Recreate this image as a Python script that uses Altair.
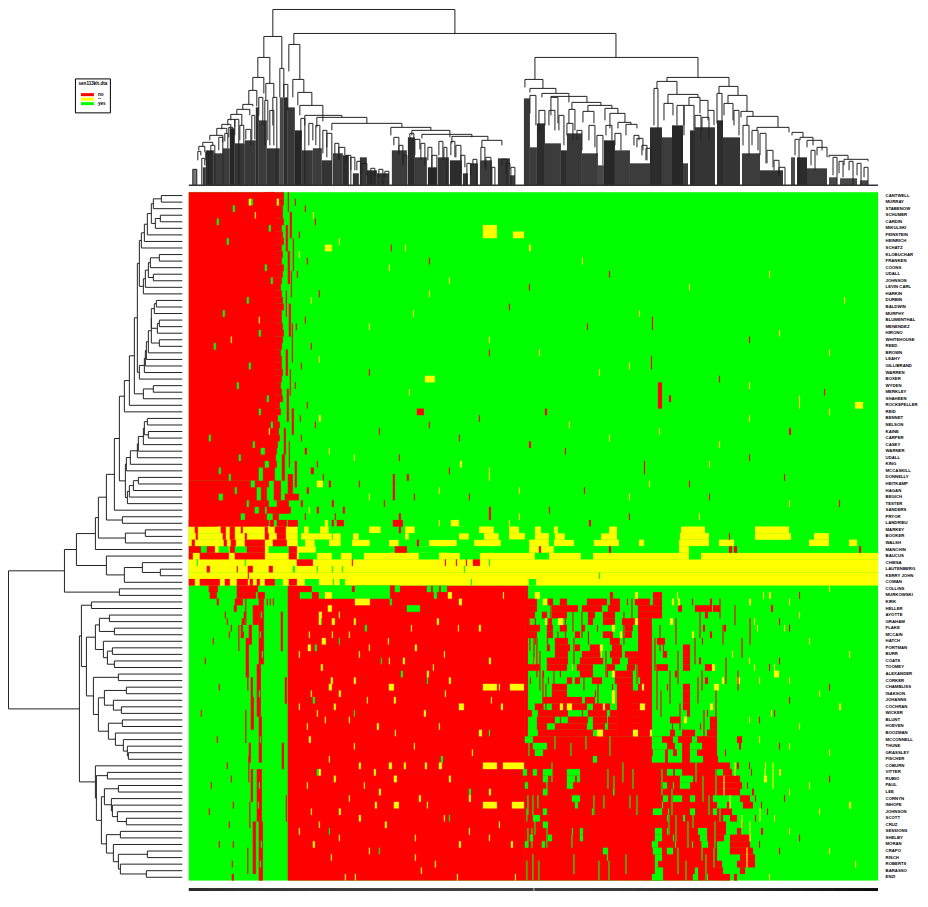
import altair as alt
import pandas as pd

NAMES = ["CANTWELL","MURRAY","STABENOW","SCHUMER","CARDIN","MIKULSKI","FEINSTEIN","HEINRICH","SCHATZ","KLOBUCHAR","FRANKEN","COONS","UDALL","JOHNSON","LEVIN  CARL","HARKIN","DURBIN","BALDWIN","MURPHY","BLUMENTHAL","MENENDEZ","HIRONO","WHITEHOUSE","REED","BROWN","LEAHY","GILLIBRAND","WARREN","BOXER","WYDEN","MERKLEY","SHAHEEN","ROCKEFELLER","REID","BENNET","NELSON","KAINE","CARPER","CASEY","WARNER","UDALL","KING","MCCASKILL","DONNELLY","HEITKAMP","HAGAN","BEGICH","TESTER","SANDERS","PRYOR","LANDRIEU","MARKEY","BOOKER","WALSH","MANCHIN","BAUCUS","CHIESA","LAUTENBERG","KERRY  JOHN","COWAN","COLLINS","MURKOWSKI","KIRK","HELLER","AYOTTE","GRAHAM","FLAKE","MCCAIN","HATCH","PORTMAN","BURR","COATS","TOOMEY","ALEXANDER","CORKER","CHAMBLISS","ISAKSON","JOHANNS","COCHRAN","WICKER","BLUNT","HOEVEN","BOOZMAN","MCCONNELL","THUNE","GRASSLEY","FISCHER","COBURN","VITTER","RUBIO","PAUL","LEE","CORNYN","INHOFE","JOHNSON","SCOTT","CRUZ","SESSIONS","SHELBY","MORAN","CRAPO","RISCH","ROBERTS","BARASSO","ENZI"]
N_COLS = 689
VOTES = ["no", "--", "yes"]
VOTE_COLORS = ["#ff0000", "#ffff00", "#00ff00"]

# solid blocks painted first: (row from, row to, col from, col to, vote)
SOLID = [(0,44,0,86,"no"),(44,51,0,76,"no"),(60,105,99,336,"no"),(83,105,336,528,"no"),(60,83,336,339,"no"),(65,83,449,463,"no"),(75,83,428,444,"no")]

# red block width of the Democratic rows 0-50
TOP_RED_END = [95,95,94,94,95,93,94,95,93,94,93,95,94,93,92,93,94,95,93,93,94,95,94,93,92,93,93,94,93,92,93,94,91,92,89,91,90,91,89,88,87,88,85,82,80,78,78,80,76,78,80]

# (row from, row to, col from, col to)
TOP_RED = [(0,3,99,100),(3,7,101,103),(5,9,97,99),(7,12,104,105),(9,14,99,101),(12,16,102,103),(15,19,97,98),(17,22,100,102),(20,26,103,104),(24,28,97,99),(27,31,101,102),(30,35,98,100),(33,37,103,105),(36,40,95,97),(38,42,100,101),(40,44,93,96),(41,45,106,108),(43,46,99,104),(44,47,85,92),(46,47,96,110),(47,49,88,100),(48,49,78,102),(49,50,84,90),(50,51,92,96),
(1,2,106,107),(6,7,110,111),(12,13,108,109),(20,21,107,108),(29,30,106,107),(34,35,111,112),(37,38,112,113),
(8,9,202,203),(14,15,340,341),(20,21,398,399),(29,33,469,473),(25,27,462,463),(19,21,463,464),(33,34,228,235),(33,34,356,358),(34,35,290,291),(38,39,340,342),(40,41,210,211),(41,43,455,456),(42,43,122,125),(43,45,204,206),(43,44,218,220),(44,45,140,142),(44,45,170,171),(45,47,204,206),(46,47,225,226),(47,48,143,145),(47,48,195,196),(48,49,154,156),(49,50,210,212),(49,50,146,147),(48,50,300,302),(45,46,395,396),(46,47,520,521),(50,51,143,145),(50,51,205,207),(50,51,148,155),(50,51,400,402),(43,44,595,596),(30,31,635,636),(22,23,560,561),(17,18,320,321),(12,13,420,421),(35,36,240,241),(39,40,376,377),(28,29,530,531),(36,37,600,602),(47,48,650,651),(31,32,480,482),
(2,3,116,117),(4,5,126,127),(10,11,118,119),(15,16,130,131),(19,20,116,117),(23,24,122,123),(26,27,112,113),(32,33,118,119),(35,36,126,127),(39,40,116,118),(41,42,128,129),(43,44,134,135),(45,46,118,120),(47,48,112,114),(48,49,128,130),(49,50,116,117),(27,28,180,181),(36,37,190,191),(42,43,260,261),(46,47,280,281),(48,49,360,361),(49,50,440,441),(44,45,500,501),(40,41,560,561),(24,25,300,301),(10,11,240,241),(37,38,270,271)]
TOP_GREEN = [(1,2,62,64),(2,3,44,46),(4,5,28,30),(5,6,80,82),(7,8,38,40),(11,12,76,78),(13,14,82,84),(16,17,58,60),(18,19,34,36),(21,22,70,72),(23,24,25,27),(26,27,60,62),(29,30,48,50),(31,32,78,80),(33,34,70,72),(35,36,82,84),(37,38,20,22),(38,39,64,66),(39,40,72,76),(40,41,50,52),(41,42,76,80),(42,43,30,32),(42,44,70,74),(43,44,40,42),(44,45,62,66),(45,46,46,48),(45,47,68,72),(46,47,30,34),(47,48,58,60),(48,49,66,70),(49,50,52,56),(50,51,22,24),(50,51,61,66)]
TOP_YELLOW = [(1,2,60,62),(1,2,88,90),(3,4,66,67),(5,7,294,308),(6,7,324,335),(8,9,136,143),(8,9,216,217),(8,9,340,342),(9,10,110,111),(10,11,393,394),(12,13,580,581),(15,16,240,241),(18,19,224,225),(19,20,70,71),(22,23,42,43),(24,25,350,351),(26,27,440,441),(28,29,236,246),(29,30,560,561),(31,32,610,611),(32,33,666,674),(32,33,610,611),(34,35,130,132),(36,37,80,81),(37,38,420,421),(40,41,165,166),(41,42,271,273),(42,43,300,301),(44,45,128,134),(44,45,460,461),(45,46,250,251),(45,46,330,331),(46,47,180,181),(47,48,600,601),(48,49,120,121),(49,50,330,331),(49,50,510,511),(50,51,136,139),(50,51,250,251),(50,51,262,270),(50,51,320,321),(38,39,530,531),(33,34,640,641),(16,17,655,656),(24,25,640,641),
(3,4,124,125),(7,8,150,151),(11,12,200,201),(13,14,260,261),(16,17,122,123),(20,21,180,181),(22,23,300,301),(25,26,130,131),(27,28,410,411),(30,31,220,221),(35,36,380,381),(39,40,140,141),(43,44,300,301),(46,47,440,441),(41,42,520,521),(36,37,470,471),(14,15,500,501),(18,19,450,451),(21,22,590,591),(34,35,560,561)]

# rows 51-59: (row, col from, col to)
MID_RED = [(51,6,9),(51,32,37),(51,41,46),(51,52,54),(51,76,79),(51,86,97),(52,7,9),(52,34,37),(52,41,46),(52,56,58),(52,76,80),(52,88,97),(53,3,6),(53,35,38),(53,42,47),(53,56,76),(53,84,98),
(54,0,12),(54,18,26),(54,41,46),(54,58,76),(54,100,108),(55,0,4),(55,11,40),(55,46,76),(55,100,108),
(56,108,124),(56,163,164),(56,256,257),(56,267,268),(56,277,278),(56,284,291),
(57,18,21),(57,48,49),(57,59,64),(57,80,84),(58,59,60),
(59,0,6),(59,11,31),(59,36,41),(59,48,59),(59,61,64),(59,68,71),(59,76,86),(59,100,108),
(50,0,29),(50,31,76),(50,81,85),(50,88,98),(50,99,109),(50,204,214),
(54,206,218),(54,540,543),(53,228,230),(54,350,352),(54,420,422),(54,545,548),(54,670,672),(52,540,541),(51,210,212)]
MID_YELLOW = [(51,0,109),(52,0,109),(53,0,109),(51,115,120),(52,112,130),(53,116,126),(51,131,140),(52,130,143),(53,140,152),(52,144,152),(53,163,181),(51,180,192),(52,164,170),(53,200,210),(51,216,226),(52,216,220),(53,240,268),(51,268,275),(52,270,280),(51,290,305),(52,295,310),(53,285,312),(51,320,330),(52,320,336),
(51,346,352),(51,365,369),(51,420,428),(51,492,516),(51,566,600),(52,346,360),(52,366,376),(52,412,428),(52,491,520),(52,566,602),(52,625,640),(53,340,360),(53,365,385),(53,405,430),(53,450,455),(53,490,520),(53,530,545),(53,620,640),(53,660,668),
(54,26,41),(54,76,80),(54,108,128),(54,340,365),(54,222,240),(54,490,500),
(55,0,689),(56,0,689),(57,0,689),(58,0,689),(59,0,689)]
MID_GREEN = [(54,12,18),(54,30,40),(54,80,100),(54,127,200),(54,218,250),(54,260,300),(54,304,340),
(55,110,128),(55,143,152),(55,163,175),(55,230,250),(55,271,291),(55,346,360),(55,392,404),(55,500,512),
(56,8,9),(56,56,57),(57,104,106),(57,128,129),(57,143,144),(57,153,154),(57,275,276),(59,86,94),(59,116,130),(59,144,145),(59,151,156),(59,282,283),(59,340,347),(58,410,411),(56,300,301),
(51,109,115),(52,109,112),(53,109,116),(51,120,131),(52,152,164),(53,126,140),(53,152,163),(51,140,180),(52,170,216),(53,181,200),(53,210,240),(51,192,216),(51,226,290),(52,220,270),(52,280,295),(51,305,320),(52,310,320),(53,268,285),(53,312,340),
(54,365,490),(54,500,689),(51,369,420),(52,376,412)]

# rows 60-104: left part, green field with red streaks running over several rows
LEFT_RED = [(60,20,29),(60,48,69),(61,21,28),(61,48,67),(61,69,76),(62,28,30),(62,46,54),(62,78,79),(62,81,82),(62,84,85),(63,45,48),(64,36,37),(64,55,57),(65,38,39),(65,53,56),(66,42,43),(66,52,54),(67,40,41),(67,52,55),
(68,24,25),(71,16,17),(75,30,31),(79,12,13),(83,28,29),(90,22,23),(94,20,21),(99,30,31),(87,38,39),(89,42,43),(93,44,45),(96,40,41),(99,44,45),(102,43,44),(104,43,45)]
LEFT_STREAK = [(62,72,70,75),(63,66,64,70),(66,69,60,63),(68,74,57,60),(72,80,68,72),(74,77,62,64),(77,82,62,65),(80,87,70,73),(84,87,60,62),(88,96,68,73),(88,93,62,64),(96,105,70,74),(96,104,64,67),(64,70,92,94),(74,78,96,98),(84,88,93,95),(92,96,97,98)]
LEFT_HOLES = [(64,72,73),(67,71,72),(70,73,74),(76,70,71),(83,71,72),(90,70,71),(93,69,70),(99,72,73),(102,71,72)]

# rows 60-82, columns 336-580, red runs on green
VOTE_ROWS_RED = {
60:[(201,206)],
61:[(421,424),(464,473)],
62:[(339,348),(359,364),(371,378),(398,418),(421,431),(438,439),(446,461),(464,473),(503,504),(521,523)],
63:[(339,348),(363,389),(393,413),(419,431),(449,473),(489,493),(506,523),(524,531)],
64:[(339,346),(353,358),(363,378),(399,406),(414,426),(449,473),(516,519)],
65:[(339,340),(346,347),(359,363),(376,377),(399,404),(414,426),(433,449)],
66:[(339,351),(358,364),(371,378),(393,396),(408,409),(436,444),(514,516),(535,537)],
67:[(339,348),(358,364),(376,377),(386,391),(399,400),(414,424),(436,443),(521,523)],
68:[(346,347),(358,359),(366,379),(399,400),(421,431),(468,476),(513,514)],
69:[(358,361),(366,381),(386,391),(401,411),(423,433),(474,475),(494,501)],
70:[(366,379),(393,411),(421,433),(436,449),(474,478),(494,501)],
71:[(358,379),(391,414),(423,431),(439,449),(494,501),(510,512)],
72:[(339,351),(358,378),(388,404),(418,426),(438,446),(468,479),(494,501),(516,523)],
73:[(354,355),(371,372),(391,404),(418,419),(424,444),(486,488)],
74:[(341,342),(359,360),(378,383),(386,391),(403,413),(426,444),(516,519)],
75:[(363,378),(423,424),(478,479),(494,501)],
76:[(363,378),(406,407),(444,449),(494,501)],
77:[(354,393),(396,406),(444,449),(494,501)],
78:[(346,354),(363,398),(404,421),(444,449),(494,501)],
79:[(339,343),(349,379),(393,394),(399,418),(421,428),(444,449),(498,501),(518,519)],
80:[(348,366),(371,372),(379,399),(404,418),(419,428),(444,449),(481,491),(521,528)],
81:[(348,358),(366,398),(404,416),(419,428),(444,449),(483,484),(511,512),(521,528)],
82:[(349,404),(414,428),(444,449),(481,486),(493,506),(518,528)]}
VOTE_ROWS_YELLOW = [(61,346,351),(61,446,449),(61,488,489),(62,354,358),(62,483,485),(62,489,491),(65,341,342),(65,356,358),(65,369,374),(65,446,449),(65,481,484),(66,423,426),(67,431,433),(67,503,505),(69,411,414),(70,412,413),(71,345,346),(72,383,384),(72,523,526),(73,423,426),(74,548,551),(75,453,455),(75,525,530),(76,423,426),(77,423,426),(78,371,374),(78,378,383),(78,414,416),(78,451,456),(78,521,524),(80,495,498),(82,408,414),(82,444,449),(82,461,463),
(74,533,535),(70,543,544),(66,568,569),(62,560,562),(61,574,575),(61,580,582),(65,565,566),(71,560,561),(74,570,571),(72,565,566),(79,582,583),(80,560,561),(83,570,571)]
VOTE_ROWS_GREEN = [(66,444,446),(67,443,449),(68,431,449),(69,433,449),(73,444,449),(74,444,451),(75,446,449),(65,463,464)]

# rows 83-104, columns 336-528: green holes in red
LOWER_GREEN = [(83,336,344),(83,463,473),(83,484,489),(83,503,508),(84,344,358),(84,463,478),(84,486,493),(84,501,513),(85,346,354),(85,464,476),(85,479,484),(85,488,493),(85,501,508),(86,404,408),(86,463,476),(86,479,493),(86,501,514),
(88,334,338),(88,344,348),(88,354,363),(88,378,391),(88,478,484),(88,486,493),(89,354,359),(89,378,386),(89,388,391),(89,491,504),(90,336,339),(90,378,384),(90,474,478),(90,484,485),(90,491,501),(91,354,358),(91,424,425),(92,383,391),(92,474,479),(92,484,493),(92,501,506),(92,524,551),(93,386,389),(93,473,474),(93,531,538),(94,354,358),(94,403,404),(94,464,473),(94,479,480),(94,501,506),(94,524,534),(95,344,351),(95,478,479),(95,494,496),(96,354,359),(97,383,384),(97,391,394),(97,466,473),(97,478,479),(97,509,518),(98,341,344),(98,359,363),(98,391,394),(98,466,473),(98,484,485),(98,511,518),(99,336,339),(99,353,356),(99,463,469),(99,486,487),(99,503,504),(99,513,519),(100,414,419),(100,464,473),(100,478,484),(101,418,419),(101,466,473),(102,466,469),(103,466,474),(103,506,509),(104,463,474),(104,504,509),(104,518,519)]
LOWER_RIGHT_RED = [(83,548,553),(87,528,541),(88,534,543),(89,528,551),(90,528,553),(91,528,551),(92,551,561),(93,538,541),(93,554,564),(94,528,543),(95,528,534),(95,541,548),(96,528,537),(97,528,537),(97,548,552),(98,528,535),(98,541,561),(99,541,561),(100,541,564),(101,551,566),(102,528,533),(102,548,566),(103,528,534),(103,551,556),(104,528,541),(104,545,548)]
LOWER_RED_LINES = [(83,514,516),(84,516,518),(85,518,520),(86,528,529),(90,558,559),(92,566,567),(96,553,554),(99,570,571),(95,566,567),(88,562,563),(84,550,552),(85,536,537),(87,548,550),(91,563,565),(87,560,561),(93,572,573),(97,572,574),(94,578,579),(100,590,591),(80,570,571),(72,580,581),(65,590,591),(77,600,601)]

# rows 60-104, columns 100-336: holes and flecks in the red block
RED_BLOCK_GREEN = [(60,123,163),(60,166,201),(60,206,211),(60,238,242),(60,244,250),(60,252,258),(61,111,123),(61,130,136),(61,143,201),(61,245,248),(62,201,203),(63,218,231),(65,132,133),(66,176,178),(68,150,151),(69,126,128),(71,192,193),(73,212,214),(74,238,239),(77,124,126),(79,165,166),(82,300,301),(86,252,254),(88,128,130),(91,280,282),(95,260,261),(97,140,141),(100,190,191)]
RED_BLOCK_YELLOW = [(61,136,143),(61,259,263),(61,314,315),(62,166,181),(62,270,273),(63,139,143),(64,130,133),(64,150,151),(65,130,132),(65,143,146),(65,165,167),(65,248,250),(66,222,223),(66,269,270),(66,290,292),(67,120,121),(67,143,144),(67,160,161),(68,133,137),(68,199,200),(69,119,122),(69,180,181),(69,226,228),(70,110,111),(70,170,171),(70,255,256),(71,200,201),(71,214,216),(71,300,302),(72,132,134),(72,244,245),(73,238,240),(74,142,144),(74,165,167),(74,260,262),(75,140,143),(75,294,308),(75,321,335),(75,200,205),(75,310,311),(76,122,123),(76,150,152),(76,256,257),(77,178,179),(77,205,207),(77,302,303),(78,145,147),(78,110,111),(78,270,275),(78,312,314),(79,128,129),(79,235,237),(80,136,137),(80,160,161),(81,118,119),(81,188,190),(81,250,251),(82,206,207),(82,290,293),
(83,120,122),(84,225,226),(84,165,166),(85,283,284),(86,140,141),(87,170,172),(87,200,203),(87,215,217),(87,294,308),(87,314,335),(87,236,238),(87,250,253),(88,130,132),(88,185,187),(89,145,147),(89,205,208),(89,260,262),(90,118,119),(90,175,176),(91,190,192),(91,300,302),(92,160,161),(92,230,232),(92,280,282),(93,294,308),(93,323,335),(93,205,210),(93,238,239),(93,186,188),(94,150,152),(94,122,123),(95,255,256),(95,170,172),(96,130,131),(96,196,198),(96,310,311),(97,280,281),(97,110,111),(98,226,227),(98,150,151),(98,300,301),(99,124,126),(99,270,272),(99,322,324),(100,180,181),(101,142,143),(101,226,227),(102,246,247),(103,232,233),(104,156,157),(104,166,167),(104,268,269),(104,326,327)]

# rows 60-104 far-right field flecks
RIGHT_YELLOW = [(60,640,641),(62,600,601),(64,610,611),(66,595,596),(68,620,621),(70,660,661),(72,585,586),(73,585,590),(74,600,601),(76,630,631),(78,650,652),(81,610,611),(84,600,601),(87,576,577),(88,590,592),(89,575,578),(90,620,621),(93,660,662),(95,585,586),(97,600,601),(100,640,641),(102,666,667),(104,580,581),(85,640,641),(91,600,601),(94,630,631)]
RIGHT_RED = [(61,610,611),(63,582,584),(66,600,601),(71,590,591),(75,640,641),(79,585,586),(84,590,591),(92,595,596),(89,640,641),(98,610,611)]

# thin votes that straddle a pixel: (row from, row to, col, vote)
THIN = [(62,75,337,"no"),(64,70,340,"no"),(66,72,344,"no"),(68,74,347,"no"),(70,76,350,"no"),(73,79,353,"no"),(75,81,356,"no"),(62,66,361,"no"),(67,71,368,"no"),(73,77,364,"no"),(63,67,383,"no"),(68,72,384,"no"),(73,76,394,"no"),(64,68,392,"no"),(75,79,408,"no"),(70,74,416,"no"),(64,69,434,"no"),(71,75,447,"no"),(62,66,442,"no"),(68,73,465,"no"),(72,79,467,"no"),(76,80,471,"no"),(66,70,470,"no"),(73,78,480,"no"),(65,69,486,"no"),(70,75,488,"no"),(78,82,490,"no"),(68,72,505,"no"),(74,78,508,"no"),(64,68,510,"no"),(73,76,512,"no"),(79,83,514,"no"),(62,65,530,"no"),(66,69,533,"no"),(71,75,536,"no"),(76,80,526,"no"),(63,66,545,"no"),(68,71,552,"no"),(73,76,548,"no"),(65,69,560,"no"),
(62,66,56,"no"),(66,70,49,"no"),(72,76,58,"no"),(79,84,56,"no"),(86,90,59,"no"),(93,97,60,"no"),(100,104,58,"no"),
(83,86,339,"yes"),(83,85,365,"yes"),(84,86,381,"yes"),(83,85,396,"yes"),(83,86,420,"yes"),(88,92,357,"yes"),(87,90,362,"yes"),(88,91,418,"yes"),(89,92,424,"yes"),(87,90,433,"yes"),(88,91,443,"yes"),(92,95,338,"yes"),(92,95,343,"yes"),(92,94,348,"yes"),(92,95,404,"yes"),(92,94,414,"yes"),(92,94,440,"yes"),(92,95,447,"yes"),(94,96,337,"yes"),(95,98,345,"yes"),(97,100,338,"yes"),(97,100,342,"yes"),(97,100,357,"yes"),(98,100,382,"yes"),(102,105,337,"yes"),(101,105,343,"yes"),(102,105,349,"yes"),(101,104,384,"yes"),(102,105,409,"yes"),(102,105,419,"yes"),(101,104,436,"yes"),(88,92,472,"yes"),(91,95,482,"yes"),(87,90,506,"yes"),(89,93,513,"yes"),(92,95,519,"yes"),(95,98,479,"yes"),(95,99,486,"yes"),(94,97,503,"yes"),(96,100,498,"yes"),(98,102,512,"yes"),(100,103,524,"yes"),(100,104,488,"yes"),(102,105,496,"yes"),(101,105,516,"yes"),(88,92,526,"yes"),(92,96,530,"yes"),(96,100,525,"yes"),
(87,89,545,"--"),(92,94,540,"--"),(95,97,552,"--"),(88,90,575,"--"),(96,99,560,"--"),(100,103,557,"--"),(89,92,534,"--"),(94,96,570,"--"),(87,91,583,"--")]

legend_labels = ["no", "--", "yes"]

L = 0
LEFT_TREE = [174,
 [118,
  [106,
   [87,
    [84,
     [76,
      [68,
       [63,
        [58,[53,[48,[45,[43,[41,[38,[35,[31,[29,[21,L,L],L],[27,[22,L,L],L]],L],L],L],[39,[37,[34,[32,[23,L,L],L],[29,L,L]],L],L]],
                     [43,[38,[37,[36,[34,[31,[31,[28,[26,L,L],L],[25,[23,L,L],L]],[23,L,L]],L],L],L],L],L]],
                 [39,[29,L,L],L]],L],L],
        [57,[56,[52,[45,[44,[39,[38,[35,L,L],[34,L,L]],L],L],L],L],L],[55,[53,[49,[44,L,L],L],L],L]]],
       L],
      [60,L,L]],
     [57,[37,L,L],L]],
    L],
   [76,L,[58,[40,L,[22,L,L]],L]]],
  [63,L,L]],
 [103,
  [101,[91,L,L],
   [96,[87,[83,[73,L,L],[68,L,L]],[79,L,[75,[70,L,L],[68,L,L]]]],
       [89,[64,L,L],[84,[78,[56,L,L],[69,L,[61,L,L]]],[74,[60,L,L],[67,L,[59,L,[55,L,[54,L,L]]]]]]]]],
  [87,L,[86,[75,L,L],[81,[78,[64,L,L],[71,L,[70,L,[65,L,[56,L,L]]]]],[76,[62,L,L],[69,L,[64,[35,L,L],[62,L,[36,L,L]]]]]]]]]]

# merges of the column tree: (left col, right col, height, left child height, right child height)
TOP_NODES = [(84,266,176,149,152),(105,427,152,141,128),(346,509,128,106,108),(75,93,149,128,117),(69,81,128,108,102),(64,75,108,95,92),(77,85,102,85,88),(60,68,95,81,79),(54,64,81,76,79),(48,61,76,71,70),(42,53,71,65,60),(39,46,66,60,58),(33,42,61,56,51),(28,38,57,50,52),(21,34,50,45,43),(14,24,43,39,40),(10,16,39,35,33),(9,12,34,25,30),(4,8,16,0,0),(91,95,117,88,88),(95,99,101,88,75),(100,111,141,114,106),(104,115,106,88,93),(109,123,93,80,80),(111,134,80,70,64),(116,153,70,60,68),(128,178,68,58,62),(143,213,62,55,58),(202,242,58,50,55),(223,261,55,50,48),(233,283,51,47,48),(263,299,49,42,45),(293,313,45,38,40),
(30,34,48,35,0),(22,26,40,30,0),(17,20,33,25,0),(13,16,27,0,20),(36,39,52,44,37),(40,44,58,48,40),(46,50,66,50,0),(51,55,60,45,42),(57,62,56,46,40),(63,66,70,45,46),(70,74,88,70,60),(76,79,85,40,45),(81,85,75,40,40),(84,88,88,60,0),(112,116,67,45,0),(120,124,62,40,45),(127,131,60,40,35),(134,138,55,32,28),(138,143,52,38,0),(146,150,42,30,25),(150,156,38,26,30),(157,162,30,22,15),(162,166,28,0,15),(168,172,24,15,0),(173,178,22,12,10),(182,186,17,0,8),(190,194,16,8,0),(196,200,14,8,0),(205,210,48,40,30),(210,214,40,32,22),(214,218,30,20,0),(221,225,52,46,44),(226,231,46,30,36),(232,236,42,25,20),(239,243,38,25,0),(243,248,30,18,0),(250,254,44,30,26),(255,258,38,25,0),(262,266,44,30,28),(267,272,40,28,25),(272,276,30,12,18),(278,282,22,0,10),(284,288,26,20,0),(292,296,38,25,18),(297,302,28,15,0),(303,306,18,0,0),(313,318,26,20,0),(317,321,22,12,16),(322,326,18,0,0),
(336,354,106,98,97),(341,367,97,93,92),(353,380,92,88,83),(362,398,89,88,83),(383,412,83,76,80),(399,423,80,74,77),(416,429,77,65,72),(421,436,72,57,63),(429,442,63,57,61),(437,448,61,50,57),(445,450,50,40,45),(448,454,47,38,35),(453,458,40,30,25),(457,462,37,25,20),(394,405,74,63,62),(380,386,76,62,55),(362,369,88,70,62),(341,347,90,72,60),(350,356,75,55,60),(360,366,75,60,55),(370,375,70,55,40),(378,384,62,50,45),(388,393,55,45,35),(400,406,60,45,38),(408,414,50,30,20),(417,423,60,50,45),(426,432,52,40,35),
(478,540,108,104,99),(468,488,104,97,91),(465,469,97,60,55),(479,509,91,82,88),(500,511,88,80,85),(511,519,85,72,75),(519,525,75,65,60),(475,484,82,65,70),(488,495,80,60,50),(495,505,80,60,55),(506,512,70,55,45),(513,520,68,55,45),(530,549,99,92,90),(528,533,92,62,60),(539,558,90,82,74),(535,544,82,70,65),(545,550,75,60,50),(552,564,74,68,69),(558,589,69,60,58),(568,600,58,55,53),(554,560,60,40,30),(563,569,55,40,35),(571,577,52,30,22),(578,584,35,22,18),(585,590,25,15,10),(590,596,18,10,0),(603,614,53,50,48),(611,624,48,45,40),(618,633,45,38,35),(628,638,38,30,28),(606,610,46,30,0),(622,626,35,20,15),(640,659,30,28,26),(655,679,26,20,24),(644,648,28,10,0),(650,654,24,12,8),(660,664,24,15,0),(668,672,22,10,0),(675,679,18,8,0)]

# dark masses of tightly joined columns: (col from, col to, height, shade)
DARK = [(4,8,16,"#777"),(14,17,18,"#383838"),(17,25,35,"#2c2c2c"),(25,34,32,"#3c3c3c"),(34,41,37,"#3c3c3c"),(41,46,57,"#262626"),(46,56,42,"#343434"),(56,67,45,"#383838"),(67,70,78,"#2c2c2c"),(70,78,65,"#3c3c3c"),(78,91,37,"#343434"),(91,95,88,"#484848"),(95,99,88,"#2c2c2c"),(99,106,78,"#383838"),(106,113,55,"#262626"),(113,124,35,"#383838"),(124,133,37,"#3c3c3c"),(133,143,25,"#343434"),(144,154,32,"#3c3c3c"),(154,160,30,"#2c2c2c"),(164,170,12,"#343434"),(171,178,28,"#383838"),(178,188,15,"#2c2c2c"),(188,200,12,"#343434"),(203,218,35,"#3c3c3c"),(219,226,48,"#2c2c2c"),(226,238,28,"#3c3c3c"),(239,248,18,"#262626"),(249,260,28,"#343434"),(261,273,25,"#2c2c2c"),(274,279,12,"#343434"),(281,289,22,"#343434"),(291,303,25,"#3c3c3c"),(309,321,27,"#383838"),(321,326,10,"#3c3c3c"),
(335,341,87,"#383838"),(341,348,38,"#3c3c3c"),(348,356,62,"#2c2c2c"),(356,372,42,"#3c3c3c"),(372,378,35,"#2c2c2c"),(378,393,52,"#383838"),(393,409,32,"#3c3c3c"),(409,415,20,"#484848"),(415,426,45,"#262626"),(426,441,35,"#3c3c3c"),(441,461,22,"#3c3c3c"),(461,473,58,"#2c2c2c"),(473,483,48,"#3c3c3c"),(483,494,60,"#262626"),(494,499,22,"#3c3c3c"),(501,506,55,"#2c2c2c"),(506,526,58,"#343434"),(528,534,65,"#2c2c2c"),(534,551,48,"#343434"),(553,571,32,"#3c3c3c"),(571,594,15,"#343434"),(602,606,28,"#484848"),(608,618,28,"#2c2c2c"),(618,638,17,"#3c3c3c"),(640,648,8,"#484848"),(651,668,7,"#484848"),(671,679,5,"#484848")]


def paint():
    cells = list(SOLID)
    cells += [(r, r + 1, 76, end, "no") for r, end in enumerate(TOP_RED_END)]
    cells += [(r0, r1, c0, c1, "no") for r0, r1, c0, c1 in TOP_RED]
    cells += [(r0, r1, c0, c1, "yes") for r0, r1, c0, c1 in TOP_GREEN]
    cells += [(r0, r1, c0, c1, "--") for r0, r1, c0, c1 in TOP_YELLOW]
    cells += [(r, r + 1, c0, c1, "--") for r, c0, c1 in MID_YELLOW]
    cells += [(r, r + 1, c0, c1, "yes") for r, c0, c1 in MID_GREEN]
    cells += [(r, r + 1, c0, c1, "no") for r, c0, c1 in MID_RED]
    cells += [(r, r + 1, c0, c1, "no") for r, c0, c1 in LEFT_RED]
    cells += [(r0, r1, c0, c1, "no") for r0, r1, c0, c1 in LEFT_STREAK]
    cells += [(r, r + 1, c0, c1, "yes") for r, c0, c1 in LEFT_HOLES]
    for r, runs in VOTE_ROWS_RED.items():
        cells += [(r, r + 1, c0, c1, "no") for c0, c1 in runs]
    cells += [(r, r + 1, c0, c1, "yes") for r, c0, c1 in VOTE_ROWS_GREEN]
    cells += [(r, r + 1, c0, c1, "--") for r, c0, c1 in VOTE_ROWS_YELLOW]
    cells += [(r, r + 1, c0, c1, "yes") for r, c0, c1 in LOWER_GREEN]
    cells += [(r, r + 1, c0, c1, "no") for r, c0, c1 in LOWER_RIGHT_RED + LOWER_RED_LINES + RIGHT_RED]
    cells += [(r, r + 1, c0, c1, "yes") for r, c0, c1 in RED_BLOCK_GREEN]
    cells += [(r, r + 1, c0, c1, "--") for r, c0, c1 in RED_BLOCK_YELLOW + RIGHT_YELLOW]
    cells += [(r0, r1, c + 0.5, c + 1.5, v) for r0, r1, c, v in THIN]
    rows = [(0, 105, 0, N_COLS, "yes")] + cells
    return pd.DataFrame(
        [{"i": i, "r0": r[0], "r1": r[1], "c0": r[2], "c1": r[3], "vote": r[4]} for i, r in enumerate(rows)]
    )


cells_df = paint()
col_scale = alt.Scale(domain=[0, N_COLS], nice=False, zero=False)
row_scale = alt.Scale(domain=[105, 0], nice=False, zero=False)
vote_scale = alt.Scale(domain=VOTES, range=VOTE_COLORS)

heat = alt.Chart(cells_df).mark_rect(strokeWidth=0.15).encode(
    x=alt.X("c0:Q", scale=col_scale, axis=alt.Axis(
        values=list(range(N_COLS)), labels=False, domain=False, grid=False, title=None,
        tickColor="#000000", tickSize=3, tickWidth=1, offset=7)),
    x2="c1:Q",
    y=alt.Y("r0:Q", scale=row_scale, axis=None),
    y2="r1:Q",
    color=alt.Color("vote:N", scale=vote_scale, legend=None),
    stroke=alt.Stroke("vote:N", scale=vote_scale, legend=None),
    order="i:Q",
).properties(width=690, height=689)

labels_df = pd.DataFrame({"name": NAMES, "row": [i + 0.5 for i in range(len(NAMES))]})
labels = alt.Chart(labels_df).mark_text(
    align="left", baseline="middle", font="Liberation Sans", fontSize=4.3, fontWeight="bold", color="#000000", dx=7.5
).encode(
    x=alt.value(0),
    y=alt.Y("row:Q", scale=row_scale, axis=None),
    text="name:N",
).properties(width=42, height=689)


# left tree
segs = []
counter = [0]


def walk(node):
    if node == 0:
        pos = counter[0] + 0.5
        counter[0] += 1
        return pos, 0
    h, a, b = node
    pa, ha = walk(a)
    pb, hb = walk(b)
    segs.append({"h0": h, "h1": ha, "p0": pa, "p1": pa})
    segs.append({"h0": h, "h1": hb, "p0": pb, "p1": pb})
    segs.append({"h0": h, "h1": h, "p0": pa, "p1": pb})
    return (pa + pb) / 2, h


walk(LEFT_TREE)
left_df = pd.DataFrame(segs)
left = alt.Chart(left_df).mark_rule(color="#222222", strokeWidth=1).encode(
    x=alt.X("h0:Q", scale=alt.Scale(domain=[174.5, -6.5], nice=False, zero=False), axis=None),
    x2="h1:Q",
    y=alt.Y("p0:Q", scale=row_scale, axis=None),
    y2="p1:Q",
).properties(width=181, height=689)

# top tree
top_segs = []
for c0, c1, h, h0, h1 in TOP_NODES:
    top_segs.append({"c0": c0, "c1": c1, "h0": h, "h1": h})
    top_segs.append({"c0": c0, "c1": c0, "h0": h, "h1": h0})
    top_segs.append({"c0": c1, "c1": c1, "h0": h, "h1": h1})
top_df = pd.DataFrame(top_segs)
h_scale = alt.Scale(domain=[0, 177], nice=False, zero=False)
dark_df = pd.DataFrame(DARK, columns=["c0", "c1", "h", "shade"])
dark_df["b"] = 0
dark = alt.Chart(dark_df).mark_rect(strokeWidth=0).encode(
    x=alt.X("c0:Q", scale=col_scale, axis=None), x2="c1:Q",
    y=alt.Y("h:Q", scale=h_scale, axis=None), y2="b:Q",
    color=alt.Color("shade:N", scale=None),
)
top_lines = alt.Chart(top_df).mark_rule(color="#222222", strokeWidth=1).encode(
    x=alt.X("c0:Q", scale=col_scale, axis=None), x2="c1:Q",
    y=alt.Y("h0:Q", scale=h_scale, axis=None), y2="h1:Q",
)
base_df = pd.DataFrame({"c0": [0], "c1": [N_COLS], "h": [0]})
top_base = alt.Chart(base_df).mark_rule(color="#333333", strokeWidth=1.5).encode(
    x=alt.X("c0:Q", scale=col_scale, axis=None), x2="c1:Q",
    y=alt.Y("h:Q", scale=h_scale, axis=None),
)
top = alt.layer(dark, top_lines, top_base).properties(width=690, height=177)

# legend panel
legend_df = pd.DataFrame({"label": legend_labels, "vote": VOTES})
legend_box = alt.Chart(pd.DataFrame({"k": [0]})).mark_rect(fill="#ffffff", stroke="#000000", strokeWidth=1).encode(
    x=alt.value(67.5), x2=alt.value(102.5), y=alt.value(70.5), y2=alt.value(104.5)
)
legend_title = alt.Chart(pd.DataFrame({"t": ["sen113kh.dta"]})).mark_text(
    font="Liberation Sans", fontSize=4.6, fontWeight="bold", align="center", baseline="middle", color="#000000"
).encode(x=alt.value(85), y=alt.value(75.5), text="t:N")
legend_y = alt.Y("label:N", sort=legend_labels,
                 scale=alt.Scale(domain=legend_labels, range=[84, 97.5], padding=0), axis=None)
legend_sw = alt.Chart(legend_df).mark_rule(strokeWidth=3).encode(
    x=alt.value(73), x2=alt.value(86), y=legend_y,
    color=alt.Color("vote:N", scale=vote_scale, legend=None),
)
legend_tx = alt.Chart(legend_df).mark_text(
    font="Liberation Sans", fontSize=4.6, fontWeight="bold", align="left", baseline="middle", color="#000000"
).encode(x=alt.value(90), y=legend_y, text="label:N")
legend_panel = alt.layer(legend_box, legend_title, legend_sw, legend_tx).properties(width=181, height=177)

blank = alt.Chart(pd.DataFrame({"k": [0]})).mark_rect(opacity=0).encode(
    x=alt.value(0), x2=alt.value(1), y=alt.value(10), y2=alt.value(11)
).properties(width=42, height=177)

chart = alt.concat(
    legend_panel, top, blank, left, heat, labels,
    columns=3, bounds="flush",
    spacing=alt.RowColnumber(column=0, row=7),
).resolve_scale(color="independent", stroke="independent", x="independent", y="independent").properties(
    padding=0, background="#ffffff"
).configure_view(stroke=None)

chart.save("out.html", embed_options={"renderer": "svg", "actions": False})
